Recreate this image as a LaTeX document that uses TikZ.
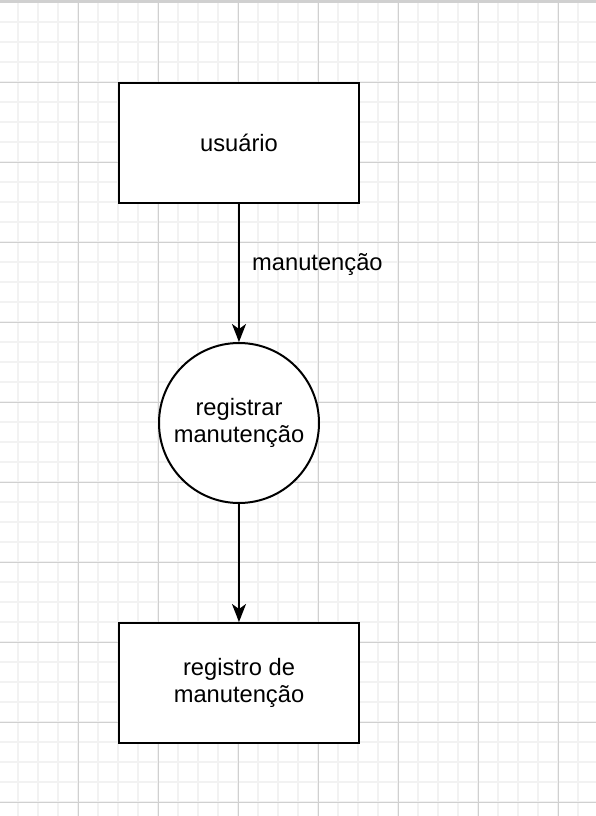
\documentclass[tikz,border=0pt]{standalone}
\usepackage{fontspec}
\setmainfont{Liberation Sans}
\usetikzlibrary{arrows.meta}
\definecolor{minorgrid}{HTML}{F2F2F2}
\definecolor{majorgrid}{HTML}{D0D0D0}
\begin{document}
\begin{tikzpicture}[x=1pt,y=-1pt,
  every node/.style={font=\fontsize{23.7}{27.7}\selectfont, align=center},
  boxnode/.style={draw=black, line width=2pt, fill=white, rectangle, minimum width=240pt, minimum height=120pt, inner sep=0pt},
  procnode/.style={draw=black, line width=2pt, fill=white, circle, minimum size=160pt, inner sep=0pt},
  flow/.style={line width=2pt, -{Stealth[length=18pt, width=14pt, inset=5pt]}},
  minorline/.style={draw=minorgrid, line width=1.5pt},
  majorline/.style={draw=majorgrid, line width=0.9pt}]
\useasboundingbox (0,0) rectangle (596,816);
\fill[white] (0,0) rectangle (596,816);
% minor grid
\foreach \x in {18,38,...,598} \draw[minorline] (\x,0) -- (\x,816);
\foreach \y in {22,42,...,816} \draw[minorline] (0,\y) -- (596,\y);
% major grid
\foreach \x in {78,158,...,558} \draw[majorline] (\x,0) -- (\x,816);
\foreach \y in {2,82,...,802} \draw[majorline] (0,\y) -- (596,\y);
\draw[majorline, line width=1.8pt] (0,1) -- (596,1);
% nodes
\node[boxnode] (u) at (239,143) {usuário};
\node[procnode] (c) at (239,423) {registrar\\manutenção};
\node[boxnode] (r) at (239,683) {registro de\\manutenção};
\node[anchor=west, inner sep=0pt] (lab) at (252,265) {manutenção};
% connectors
\draw[flow] (u) -- (c);
\draw[flow] (c) -- (r);
\end{tikzpicture}
\end{document}
